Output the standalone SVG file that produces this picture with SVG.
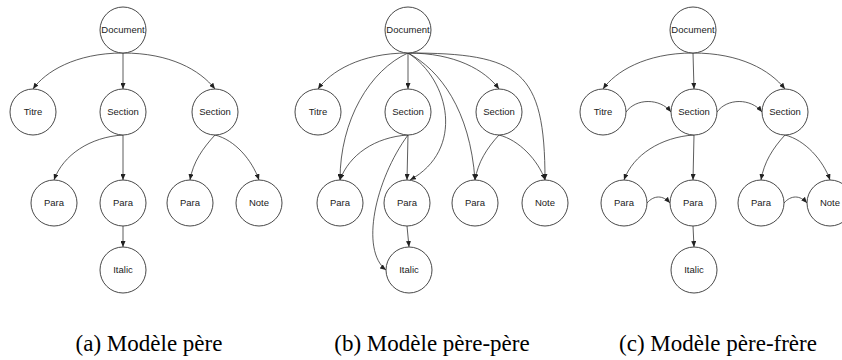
<svg xmlns="http://www.w3.org/2000/svg" width="842" height="360" viewBox="0 0 842 360">
<style>
.n circle{fill:#fff;stroke:#333;stroke-width:0.9}
.n text{font-family:"Liberation Sans",Arial,sans-serif;font-size:9.5px;fill:#222;text-anchor:middle}
.e path{fill:none;stroke:#333;stroke-width:0.8;marker-end:url(#ah)}
.cap{font-family:"Liberation Serif","Times New Roman",serif;font-size:23px;fill:#000;text-anchor:middle}
</style>
<defs>
<marker id="ah" markerUnits="userSpaceOnUse" markerWidth="6" markerHeight="5" refX="6" refY="2.5" orient="auto">
<path d="M0,0 L6,2.5 L0,5 z" fill="#222"/>
</marker>
</defs>
<rect width="842" height="360" fill="#fff"/>

<!-- Panel (a) connectors -->
<g class="e" id="edges-a">
<path d="M123,53 C75,53 45,72 33,89"/>
<path d="M123,53 L123,89"/>
<path d="M123,53 C170,53 200,70 215,89"/>
<path d="M123,135 C90,137 63,155 54,180"/>
<path d="M123,135 L123,180"/>
<path d="M215,135 C203,148 193,162 190,180"/>
<path d="M215,135 C235,140 252,160 259,180"/>
<path d="M123,226 L123,247"/>
</g>
<!-- Panel (b) connectors -->
<g class="e" id="edges-b">
<path d="M408,53 C360,53 330,72 318,89"/>
<path d="M408,53 L408,89"/>
<path d="M408,53 C455,53 485,70 499,89"/>
<path d="M408,53 C370,70 340,120 340,180"/>
<path d="M408,53 C450,80 465,150 410,180"/>
<path d="M408,53 C440,70 470,110 475,180"/>
<path d="M408,53 C520,53 545,70 545,180"/>
<path d="M408,135 C375,137 349,155 340,180"/>
<path d="M408,135 L407,180"/>
<path d="M408,135 C375,180 360,250 386,270"/>
<path d="M499,135 C487,148 478,162 475,180"/>
<path d="M499,135 C519,140 538,160 545,180"/>
<path d="M407,226 L409,247"/>
</g>
<!-- Panel (c) connectors -->
<g class="e" id="edges-c">
<path d="M693,53 C645,53 615,72 603,89"/>
<path d="M693,53 L694,89"/>
<path d="M693,53 C740,53 770,70 785,89"/>
<path d="M626,112 C636,98 660,98 671,112"/>
<path d="M717,112 C727,98 751,98 762,112"/>
<path d="M694,135 C661,137 633,155 624,180"/>
<path d="M694,135 L693,180"/>
<path d="M785,135 C773,148 764,162 761,180"/>
<path d="M785,135 C805,140 823,160 830,180"/>
<path d="M647,203 C654,195 663,195 670,203"/>
<path d="M784,203 C791,195 800,195 807,203"/>
<path d="M693,226 L694,247"/>
</g>

<!-- Panel (a) nodes -->
<g class="n" id="a-document"><circle cx="123" cy="30" r="23"/><text x="123" y="33.4">Document</text></g>
<g class="n" id="a-titre"><circle cx="33" cy="112" r="23"/><text x="33" y="115.4">Titre</text></g>
<g class="n" id="a-section1"><circle cx="123" cy="112" r="23"/><text x="123" y="115.4">Section</text></g>
<g class="n" id="a-section2"><circle cx="215" cy="112" r="23"/><text x="215" y="115.4">Section</text></g>
<g class="n" id="a-para1"><circle cx="54" cy="203" r="23"/><text x="54" y="206.4">Para</text></g>
<g class="n" id="a-para2"><circle cx="123" cy="203" r="23"/><text x="123" y="206.4">Para</text></g>
<g class="n" id="a-para3"><circle cx="190" cy="203" r="23"/><text x="190" y="206.4">Para</text></g>
<g class="n" id="a-note"><circle cx="259" cy="203" r="23"/><text x="259" y="206.4">Note</text></g>
<g class="n" id="a-italic"><circle cx="123" cy="270" r="23"/><text x="123" y="273.4">Italic</text></g>

<!-- Panel (b) nodes -->
<g class="n" id="b-document"><circle cx="408" cy="30" r="23"/><text x="408" y="33.4">Document</text></g>
<g class="n" id="b-titre"><circle cx="318" cy="112" r="23"/><text x="318" y="115.4">Titre</text></g>
<g class="n" id="b-section1"><circle cx="408" cy="112" r="23"/><text x="408" y="115.4">Section</text></g>
<g class="n" id="b-section2"><circle cx="499" cy="112" r="23"/><text x="499" y="115.4">Section</text></g>
<g class="n" id="b-para1"><circle cx="340" cy="203" r="23"/><text x="340" y="206.4">Para</text></g>
<g class="n" id="b-para2"><circle cx="407" cy="203" r="23"/><text x="407" y="206.4">Para</text></g>
<g class="n" id="b-para3"><circle cx="475" cy="203" r="23"/><text x="475" y="206.4">Para</text></g>
<g class="n" id="b-note"><circle cx="545" cy="203" r="23"/><text x="545" y="206.4">Note</text></g>
<g class="n" id="b-italic"><circle cx="409" cy="270" r="23"/><text x="409" y="273.4">Italic</text></g>

<!-- Panel (c) nodes -->
<g class="n" id="c-document"><circle cx="693" cy="30" r="23"/><text x="693" y="33.4">Document</text></g>
<g class="n" id="c-titre"><circle cx="603" cy="112" r="23"/><text x="603" y="115.4">Titre</text></g>
<g class="n" id="c-section1"><circle cx="694" cy="112" r="23"/><text x="694" y="115.4">Section</text></g>
<g class="n" id="c-section2"><circle cx="785" cy="112" r="23"/><text x="785" y="115.4">Section</text></g>
<g class="n" id="c-para1"><circle cx="624" cy="203" r="23"/><text x="624" y="206.4">Para</text></g>
<g class="n" id="c-para2"><circle cx="693" cy="203" r="23"/><text x="693" y="206.4">Para</text></g>
<g class="n" id="c-para3"><circle cx="761" cy="203" r="23"/><text x="761" y="206.4">Para</text></g>
<g class="n" id="c-note"><circle cx="830" cy="203" r="23"/><text x="830" y="206.4">Note</text></g>
<g class="n" id="c-italic"><circle cx="694" cy="270" r="23"/><text x="694" y="273.4">Italic</text></g>

<!-- Captions -->
<text class="cap" x="149" y="351">(a) Modèle père</text>
<text class="cap" x="432" y="351">(b) Modèle père-père</text>
<text class="cap" x="718" y="351">(c) Modèle père-frère</text>
</svg>
